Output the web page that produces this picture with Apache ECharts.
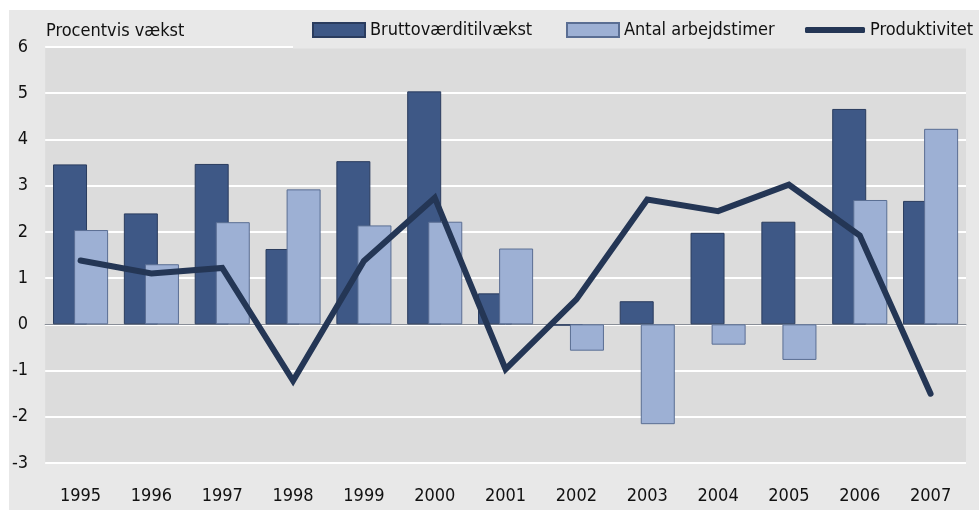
<!DOCTYPE html>
<html>
<head>
<meta charset="utf-8">
<script src="https://cdn.jsdelivr.net/npm/echarts@6/dist/echarts.min.js"></script>
<style>
  html, body { margin: 0; padding: 0; background: #ffffff; }
  #chart { position: absolute; left: 9px; top: 10px; width: 970px; height: 500px; }
</style>
</head>
<body>
<div id="chart"></div>
<script>
const years = ['1995','1996','1997','1998','1999','2000','2001','2002','2003','2004','2005','2006','2007'];
const bruttoValues = [3.46, 2.40, 3.47, 1.63, 3.53, 5.04, 0.67, -0.03, 0.50, 1.98, 2.22, 4.66, 2.67];
const timerValues = [2.04, 1.30, 2.21, 2.92, 2.14, 2.22, 1.64, -0.57, -2.16, -0.44, -0.77, 2.69, 4.23];
const produktivitetValues = [1.38, 1.10, 1.22, -1.22, 1.37, 2.74, -0.97, 0.54, 2.70, 2.45, 3.02, 1.92, -1.50];
const yMin = -3, yMax = 6, yStep = 1;
const seriesNames = ['Bruttoværditilvækst', 'Antal arbejdstimer', 'Produktivitet'];
const axisTitle = 'Procentvis vækst';

const FONT = '"DejaVu Sans Condensed", "Noto Sans", sans-serif';
const FS = 18;
const chart = echarts.init(document.getElementById('chart'), null, { renderer: 'canvas' });
const legendText = { fontFamily: FONT, fontSize: FS, color: '#111' };
chart.setOption({
  backgroundColor: '#e8e8e8',
  animation: false,
  title: {
    text: axisTitle, left: 37, top: 12, padding: 0,
    textStyle: { fontFamily: FONT, fontSize: FS, fontWeight: 'normal', color: '#111' }
  },
  graphic: [{
    type: 'rect', z: 3,
    shape: { x: 284, y: 0, width: 700, height: 38.5 },
    style: { fill: '#e8e8e8' }
  }],
  legend: [
    { data: [seriesNames[0]], left: 303, top: 11, padding: 0, itemWidth: 52, itemHeight: 14, textStyle: legendText, icon: 'rect' },
    { data: [seriesNames[1]], left: 557, top: 11, padding: 0, itemWidth: 52, itemHeight: 14, textStyle: legendText, icon: 'rect' },
    { data: [seriesNames[2]], left: 796, top: 11, padding: 0, itemWidth: 60, itemHeight: 6, textStyle: legendText, icon: 'roundRect' }
  ],
  grid: { left: 35, right: 13, top: 37, bottom: 47, show: true, backgroundColor: '#dcdcdc', borderWidth: 0 },
  xAxis: {
    type: 'category', data: years,
    axisLine: { onZero: true, lineStyle: { color: '#8a8f98', width: 1 } },
    axisTick: { show: false },
    axisLabel: { fontFamily: FONT, fontSize: FS, color: '#111', margin: 24 },
    splitLine: { show: false }
  },
  yAxis: {
    type: 'value', min: yMin, max: yMax, interval: yStep,
    axisLine: { show: false }, axisTick: { show: false },
    axisLabel: { fontFamily: FONT, fontSize: FS, color: '#111', margin: 17 },
    splitLine: { show: true, lineStyle: { color: '#ffffff', width: 2 } }
  },
  series: [
    {
      name: seriesNames[0], type: 'bar', data: bruttoValues,
      barWidth: 34, barGap: '-38%',
      itemStyle: { color: '#3e5886', borderColor: '#2a3c5e', borderWidth: 1 }
    },
    {
      name: seriesNames[1], type: 'bar', data: timerValues,
      barWidth: 34, barGap: '-38%',
      itemStyle: { color: '#9db0d4', borderColor: '#5a6e93', borderWidth: 1 }
    },
    {
      name: seriesNames[2], type: 'line', data: produktivitetValues,
      symbol: 'none', z: 5,
      lineStyle: { color: '#243655', width: 6, cap: 'round', join: 'miter' },
      itemStyle: { color: '#243655' }
    }
  ]
});
</script>
</body>
</html>
